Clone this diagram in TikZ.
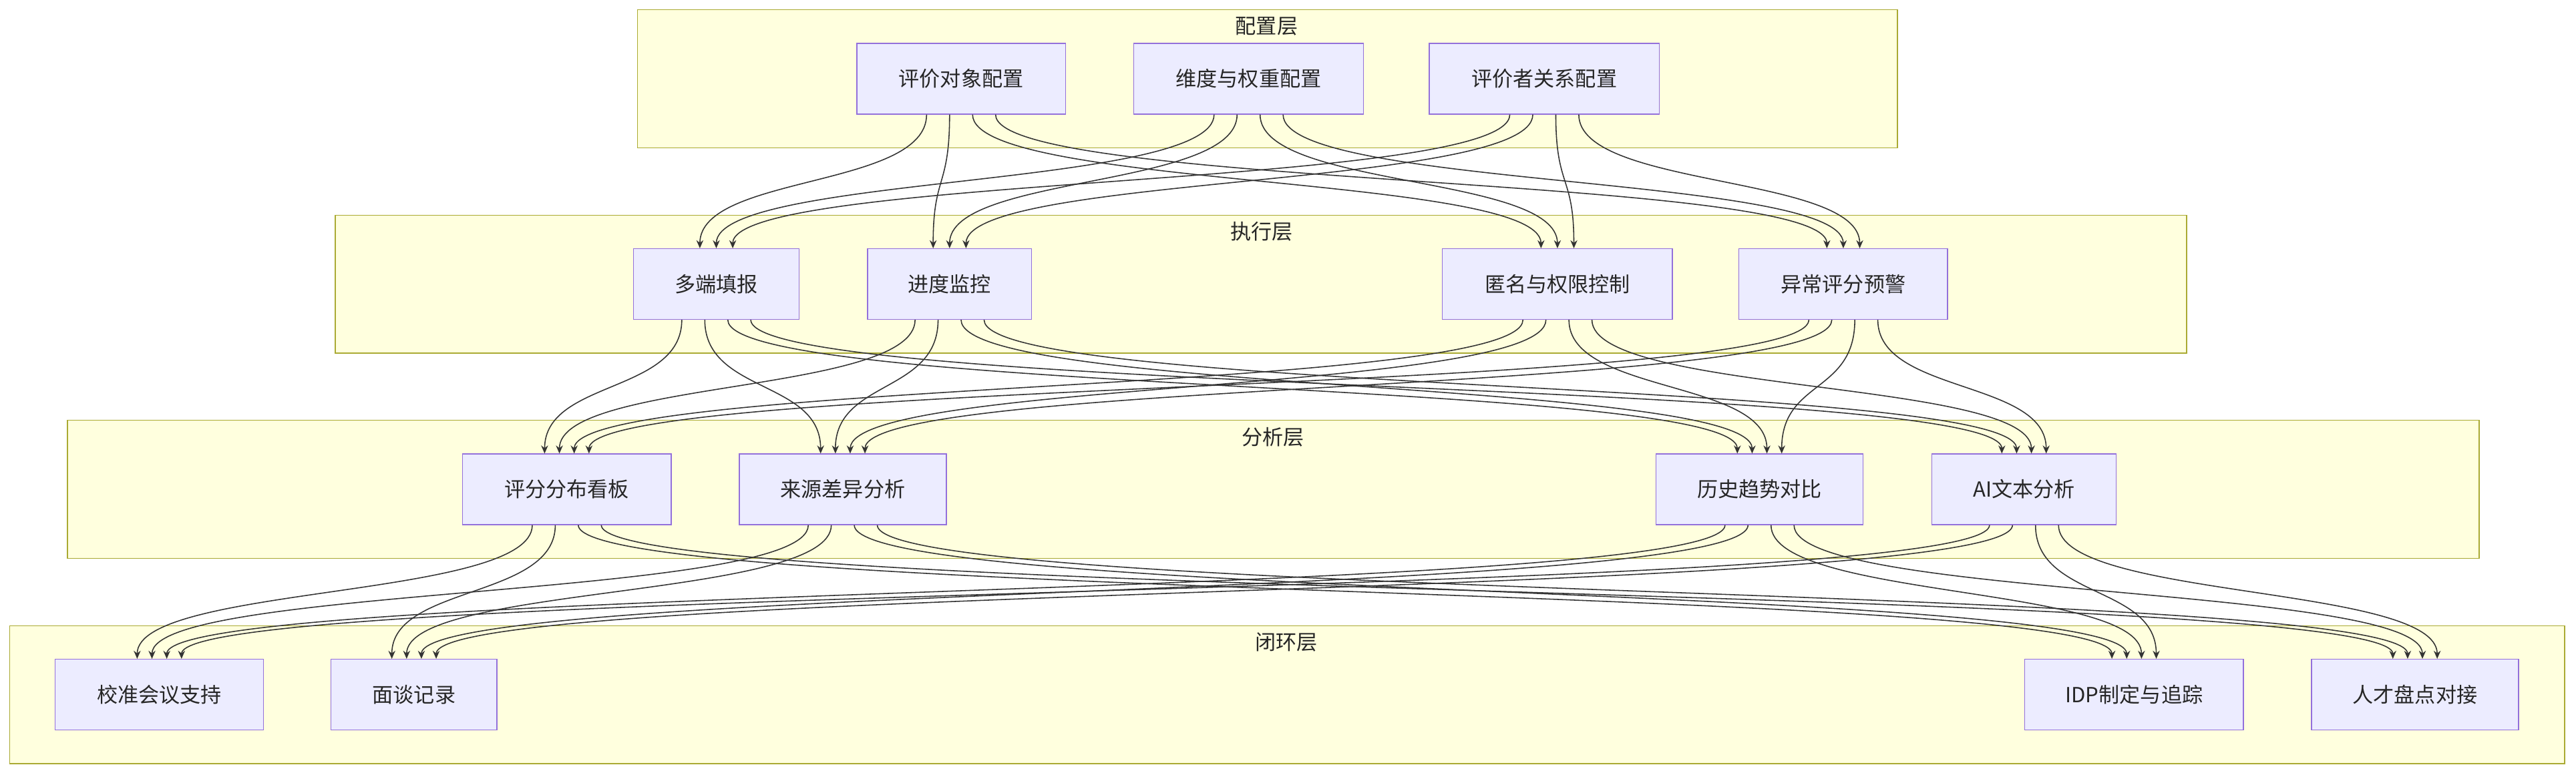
\documentclass[tikz,border=0pt]{standalone}
\usepackage{fontspec}
\setmainfont{Noto Sans CJK SC}
\usetikzlibrary{arrows.meta,calc}
\definecolor{lfill}{HTML}{FFFFDE}\definecolor{lline}{HTML}{AAAA33}
\definecolor{nfill}{HTML}{ECECFF}\definecolor{nline}{HTML}{9370DB}
\definecolor{eline}{HTML}{333333}
\begin{document}
\begin{tikzpicture}[x=0.05cm,y=-0.05cm,
 layer/.style={draw=lline,fill=lfill,line width=0.8pt},
 lab/.style={font=\fontsize{18}{20}\selectfont,text=black!85},
 box/.style={draw=nline,fill=nfill,line width=0.8pt,minimum height=2.15cm,font=\fontsize{18}{20}\selectfont,text=black!85,inner sep=0},
 e/.style={draw=eline,line width=0.9pt,-{Stealth[length=7pt,width=6pt]}}]
\useasboundingbox (0,0) rectangle (1568,473);
\fill[white] (0,0) rectangle (1568,473);
\draw[layer] (388,6) rectangle (1155,90); \node[lab] (L1) at (771,16) {配置层};
\draw[layer] (204,131) rectangle (1331,215); \node[lab] (L2) at (768,141) {执行层};
\draw[layer] (41,256) rectangle (1509,340); \node[lab] (L3) at (775,266) {分析层};
\draw[layer] (6,381) rectangle (1561,465); \node[lab] (L4) at (783,391) {闭环层};
\node[box,minimum width=6.35cm] (a1) at (585,48) {评价对象配置};
\node[box,minimum width=7cm] (a2) at (760,48) {维度与权重配置};
\node[box,minimum width=7cm] (a3) at (940,48) {评价者关系配置};
\node[box,minimum width=5.05cm] (b1) at (436,173) {多端填报};
\node[box,minimum width=5cm] (b2) at (578,173) {进度监控};
\node[box,minimum width=7cm] (b3) at (948,173) {匿名与权限控制};
\node[box,minimum width=6.35cm] (b4) at (1122,173) {异常评分预警};
\node[box,minimum width=6.35cm] (c1) at (345,298) {评分分布看板};
\node[box,minimum width=6.3cm] (c2) at (513,298) {来源差异分析};
\node[box,minimum width=6.3cm] (c3) at (1071,298) {历史趋势对比};
\node[box,minimum width=5.6cm] (c4) at (1232,298) {AI文本分析};
\node[box,minimum width=6.35cm] (d1) at (97,423) {校准会议支持};
\node[box,minimum width=5.05cm] (d2) at (252,423) {面谈记录};
\node[box,minimum width=6.65cm] (d3) at (1299,423) {IDP制定与追踪};
\node[box,minimum width=6.3cm] (d4) at (1470,423) {人才盘点对接};
% #1 source, #2 target, #3 source offset, #4 target offset
\def\con#1#2#3#4{\draw[e] ($(#1.south)+(#3,0)$) .. controls ($(#1.south)+(#3,45)$) and ($(#2.north)+(#4,-45)$) .. ($(#2.north)+(#4,0)$);}
\foreach \s [count=\i] in {a1,a2,a3}{\foreach \t [count=\j] in {b1,b2,b3,b4}{
  \pgfmathsetmacro\so{(\j-2.5)*14}\pgfmathsetmacro\to{(\i-2)*10}\con{\s}{\t}{\so}{\to}}}
\foreach \s [count=\i] in {b1,b2,b3,b4}{\foreach \t [count=\j] in {c1,c2,c3,c4}{
  \pgfmathsetmacro\so{(\j-2.5)*14}\pgfmathsetmacro\to{(\i-2.5)*9}\con{\s}{\t}{\so}{\to}}}
\foreach \s [count=\i] in {c1,c2,c3,c4}{\foreach \t [count=\j] in {d1,d2,d3,d4}{
  \pgfmathsetmacro\so{(\j-2.5)*14}\pgfmathsetmacro\to{(\i-2.5)*9}\con{\s}{\t}{\so}{\to}}}
\end{tikzpicture}
\end{document}
